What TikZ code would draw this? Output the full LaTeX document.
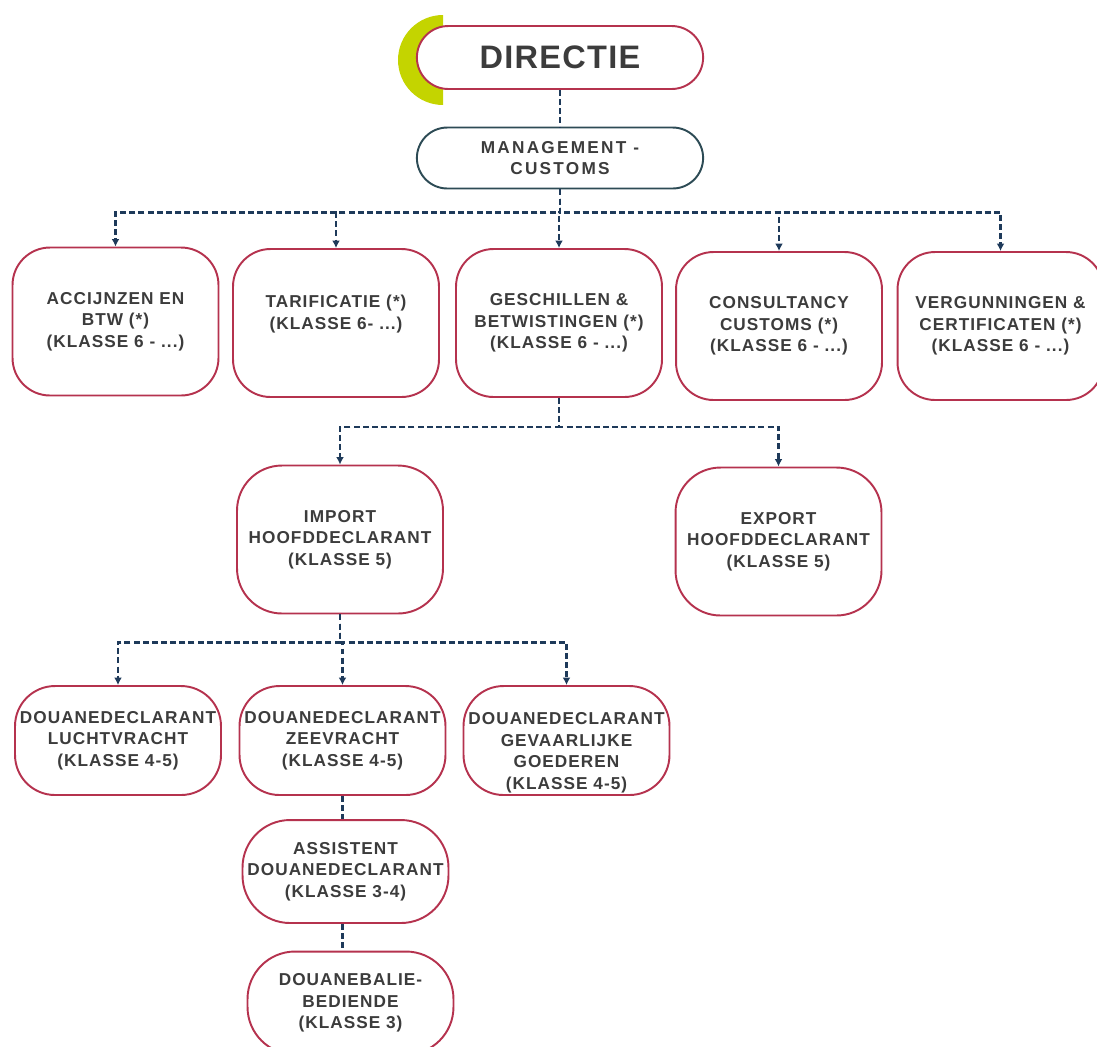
\documentclass[tikz,border=0pt]{standalone}
\usepackage{fontspec}
\usepackage{tikz}
\usetikzlibrary{arrows.meta, positioning, shapes.misc}
\newfontfamily\orgfont[LetterSpace=6]{Liberation Sans}
\definecolor{myred}{RGB}{181,50,78}
\definecolor{myslate}{RGB}{45,75,85}
\definecolor{mynavy}{RGB}{30,58,90}
\definecolor{mygray}{RGB}{60,60,60}
\definecolor{mylime}{RGB}{196,212,0}
\newcommand{\unitfont}{\orgfont\bfseries\fontsize{9.8pt}{12.2pt}\selectfont}

\begin{document}
\begin{tikzpicture}[
    x=0.02cm, y=-0.02cm,
    top_box/.style={rounded rectangle, draw=myred, line width=1.1pt, fill=white, minimum width=5.96cm, minimum height=1.26cm, text=mygray},
    unit_box/.style={draw=myred, line width=1.1pt, fill=white, rounded corners=0.75cm, minimum width=4.12cm, minimum height=2.96cm, inner sep=1pt, align=center, text=mygray, font=\unitfont},
    link/.style={draw=mynavy, line width=1.3pt, dash pattern=on 3.4pt off 1.8pt},
    arrow_link/.style={link, -{Latex[length=4.2pt, width=4.4pt]}}
]

    % Page frame
    \useasboundingbox (0,0) rectangle (1097,1046);

    % Lime accent behind the top box
    \fill[mylime] (443,15) arc[start angle=90, end angle=270, radius=0.9cm] -- cycle;

    % Top level
    \node[top_box, font=\orgfont\bfseries\fontsize{18.5pt}{20pt}\selectfont\addfontfeature{LetterSpace=4}] (directie) at (560,57.5) {DIRECTIE};
    \node[top_box, draw=myslate, minimum width=5.96cm, minimum height=1.22cm, align=center, font=\unitfont\addfontfeature{LetterSpace=13}] (mgmt) at (560,158) {MANAGEMENT -\\CUSTOMS};

    % Departments
    \node[unit_box] (accijnzen) at (115.5,321.5) {ACCIJNZEN EN\\BTW (*)\\(KLASSE 6 - ...)};
    \node[unit_box] (tarificatie) at (336,323) {TARIFICATIE (*)\\(KLASSE 6- ...)\\\mbox{}};
    \node[unit_box] (geschillen) at (559,323) {GESCHILLEN \&\\BETWISTINGEN (*)\\(KLASSE 6 - ...)};
    \node[unit_box] (consultancy) at (779,326) {CONSULTANCY\\CUSTOMS (*)\\(KLASSE 6 - ...)};
    \node[unit_box] (vergunningen) at (1000.5,326) {VERGUNNINGEN \&\\CERTIFICATEN (*)\\(KLASSE 6 - ...)};

    % Head declarants
    \node[unit_box, rounded corners=0.9cm] (import) at (340,539.5) {IMPORT\\HOOFDDECLARANT\\(KLASSE 5)};
    \node[unit_box, rounded corners=0.9cm] (export) at (778.5,541.5) {EXPORT\\HOOFDDECLARANT\\(KLASSE 5)};

    % Declarants
    \node[unit_box, minimum height=2.18cm, rounded corners=0.8cm] (luchtvracht) at (118,740.5) {DOUANEDECLARANT\\LUCHTVRACHT\\(KLASSE 4-5)};
    \node[unit_box, minimum height=2.18cm, rounded corners=0.8cm] (zeevracht) at (342.5,740.5) {DOUANEDECLARANT\\ZEEVRACHT\\(KLASSE 4-5)};
    \node[unit_box, minimum height=2.18cm, rounded corners=0.8cm] (gevaarlijk) at (566.5,740.5) {\strut\\DOUANEDECLARANT\\GEVAARLIJKE\\GOEDEREN\\(KLASSE 4-5)};

    % Support staff
    \node[unit_box, minimum height=2.06cm, rounded corners=0.95cm] (assistent) at (345.5,871.5) {ASSISTENT\\DOUANEDECLARANT\\(KLASSE 3-4)};
    \node[unit_box, minimum height=2.06cm, rounded corners=0.95cm] (baliebed) at (350.5,1003) {DOUANEBALIE-\\BEDIENDE\\(KLASSE 3)};

    % Connectors
    \draw[link] (directie.south) -- (mgmt.north);
    \foreach \dept in {accijnzen, tarificatie, geschillen, consultancy, vergunningen}
        \draw[arrow_link] (mgmt.south) -- ++(0,23) -| (\dept.north);
    \foreach \lead in {import, export}
        \draw[arrow_link] (geschillen.south) -- ++(0,29) -| (\lead.north);
    \foreach \decl in {luchtvracht, zeevracht, gevaarlijk}
        \draw[arrow_link] (import.south) -- ++(0,28) -| (\decl.north);
    \draw[link] (zeevracht.south) -- (zeevracht.south |- assistent.north);
    \draw[link] (zeevracht.south |- assistent.south) -- (zeevracht.south |- baliebed.north);

\end{tikzpicture}
\end{document}
